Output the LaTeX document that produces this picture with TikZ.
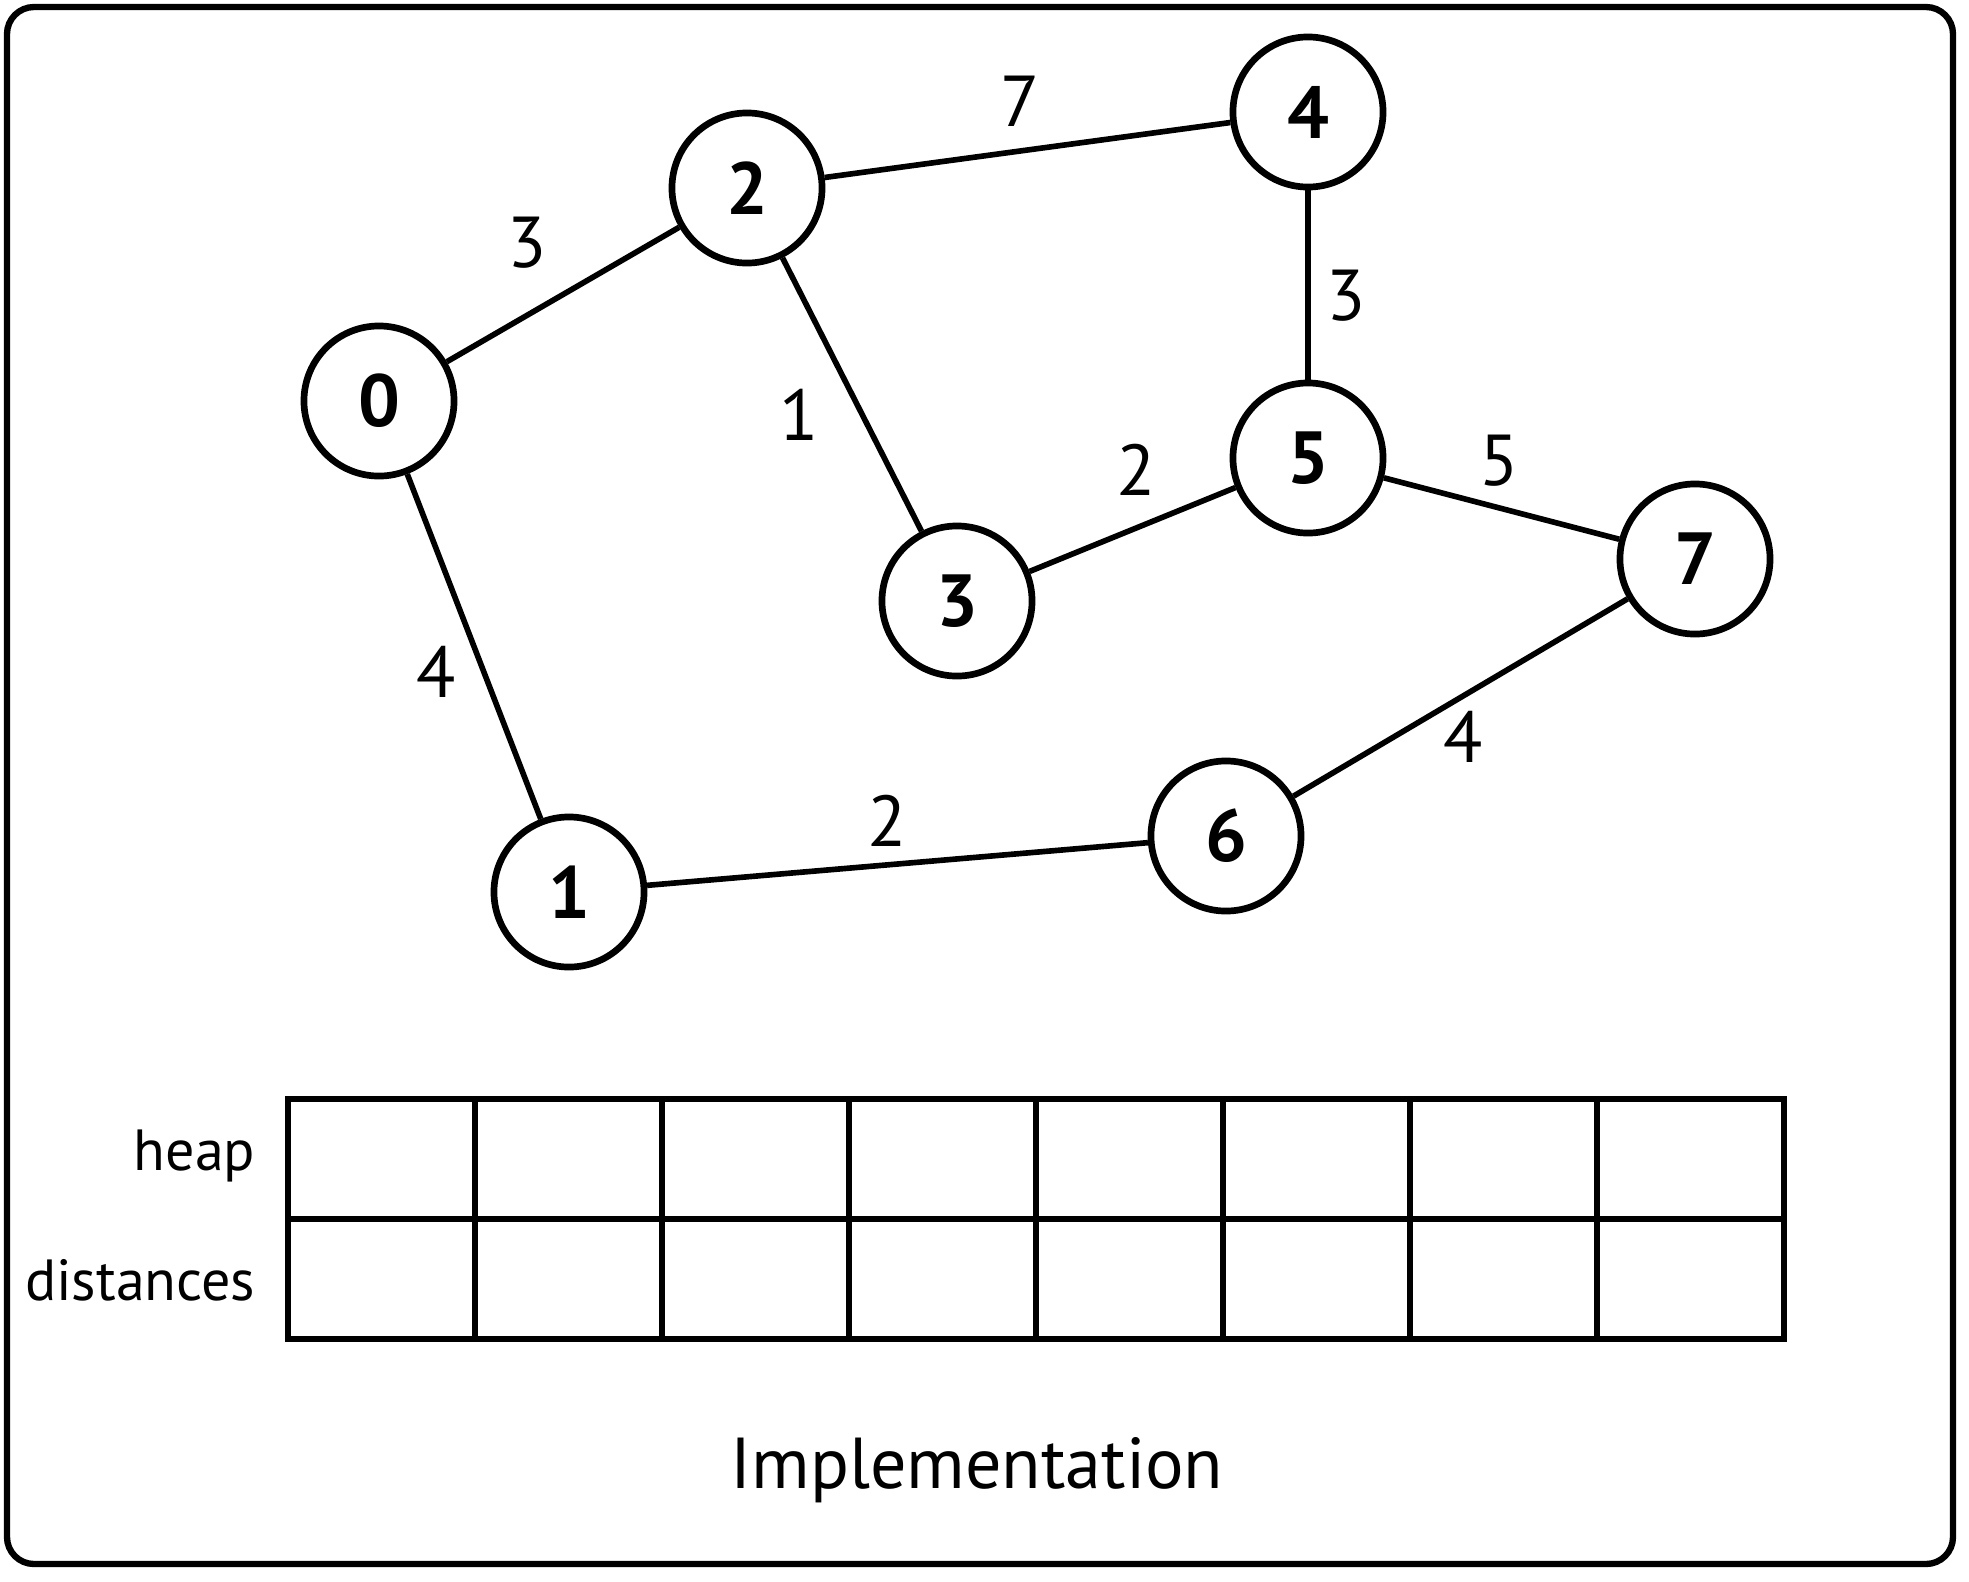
\documentclass[tikz,border=0pt]{standalone}
\usepackage{fontspec}
\setmainfont{PT Sans}
\usetikzlibrary{shadows}
\begin{document}
\begin{tikzpicture}[x=0.01cm,y=-0.01cm,
  vert/.style={circle,draw,line width=1.9pt,minimum size=1.5cm,inner sep=0pt,fill=white,
    font=\fontsize{21}{25}\selectfont\bfseries,
    drop shadow={shadow xshift=0.6pt,shadow yshift=-0.6pt,opacity=0.25}},
  edge/.style={line width=1.6pt},
  wlab/.style={font=\fontsize{20.5}{24}\selectfont,inner sep=0pt},
  cell/.style={draw,line width=1.6pt,minimum width=1.87cm,minimum height=1.2cm,inner sep=0pt,outer sep=0pt},
  rowlab/.style={font=\fontsize{16.5}{19}\selectfont,inner sep=0pt,anchor=base east}]
\useasboundingbox (0,0) rectangle (1969,1581);
\draw[line width=1.8pt,rounded corners=0.27cm,fill=white] (7,7) rectangle (1953,1564);
% vertices
\node[vert] (n0) at (379,401) {0};
\node[vert] (n2) at (747,188) {2};
\node[vert] (n4) at (1308,112) {4};
\node[vert] (n5) at (1308,458) {5};
\node[vert] (n3) at (957,601) {3};
\node[vert] (n7) at (1695,559) {7};
\node[vert] (n6) at (1226,836) {6};
\node[vert] (n1) at (569,892) {1};
% edges
\draw[edge] (n0) -- (n2);
\draw[edge] (n2) -- (n4);
\draw[edge] (n2) -- (n3);
\draw[edge] (n4) -- (n5);
\draw[edge] (n3) -- (n5);
\draw[edge] (n5) -- (n7);
\draw[edge] (n0) -- (n1);
\draw[edge] (n1) -- (n6);
\draw[edge] (n6) -- (n7);
% weights
\node[wlab] (w02) at (527,243) {3};
\node[wlab] (w24) at (1020,101) {7};
\node[wlab] (w23) at (799,415) {1};
\node[wlab] (w45) at (1346,296) {3};
\node[wlab] (w35) at (1136,470) {2};
\node[wlab] (w57) at (1499,461) {5};
\node[wlab] (w01) at (436,672) {4};
\node[wlab] (w16) at (887,821) {2};
\node[wlab] (w67) at (1463,737) {4};
% table
\foreach \i in {0,...,7}{
  \node[cell] (h\i) at ({288+187*\i+93.5},1159) {};
  \node[cell] (d\i) at ({288+187*\i+93.5},1279) {};
}
\node[rowlab] (heap) at (256,1170) {heap};
\node[rowlab] (dist) at (256,1300) {distances};
\node[font=\fontsize{20.5}{24}\selectfont,inner sep=0pt,anchor=base] (impl) at (977,1488) {Implementation};
\end{tikzpicture}
\end{document}
